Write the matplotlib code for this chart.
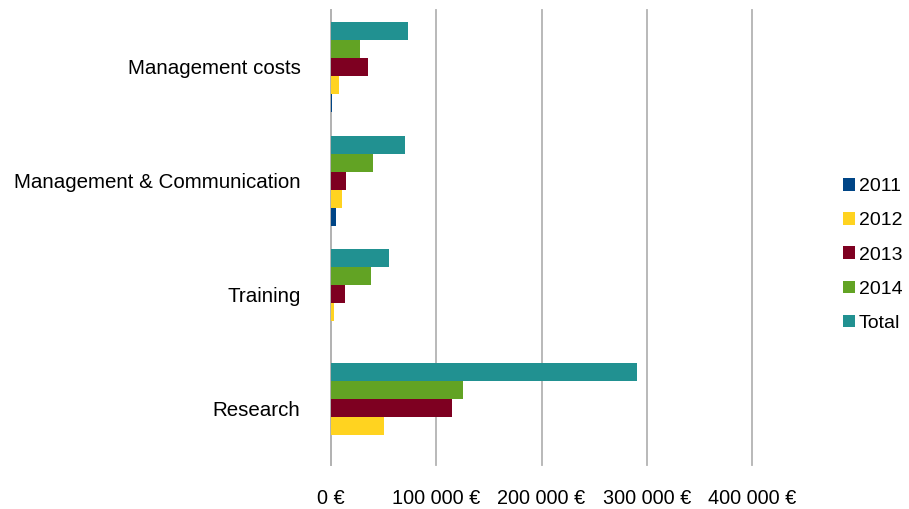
import matplotlib.pyplot as plt
import numpy as np
from matplotlib.patches import Patch
from matplotlib.ticker import FuncFormatter

plt.rcParams['font.family'] = ['Liberation Sans', 'DejaVu Sans']

categories = ["Management costs", "Management & Communication", "Training", "Research"]
series = ["2011", "2012", "2013", "2014", "Total"]
values = {
    "2011": [1000, 5000, 0, 0],
    "2012": [8000, 10000, 3000, 50000],
    "2013": [35000, 14000, 13000, 115000],
    "2014": [28000, 40000, 38000, 125000],
    "Total": [73000, 70500, 55000, 291000],
}
colors = {
    "2011": "#004586",
    "2012": "#ffd320",
    "2013": "#7e0021",
    "2014": "#62a324",
    "Total": "#219191",
}
xticks = [0, 100000, 200000, 300000, 400000]


def euro(v, pos):
    return "{:,.0f} €".format(v).replace(",", " ")


fig = plt.figure(figsize=(9.09, 5.09), dpi=100)
ax = fig.add_axes([331 / 909, 1 - 465 / 509, (752 - 331) / 909, 455 / 509])

# categories top to bottom, series bottom to top inside each group
y_base = np.arange(len(categories))[::-1]
bar_h = 0.158
for i, s in enumerate(series):
    offs = (i - 2) * bar_h
    ax.barh(y_base + offs, values[s], height=bar_h, color=colors[s], zorder=3)

ax.set_ylim(-0.5, len(categories) - 0.5)
ax.set_xlim(0, 400000)
ax.set_yticks(y_base)
ax.set_yticklabels(categories, fontsize=14.8, color="#000000")
ax.set_xticks(xticks)
ax.xaxis.set_major_formatter(FuncFormatter(euro))
ax.tick_params(axis="x", labelsize=14.3, length=0, pad=17)
ax.tick_params(axis="y", length=0, pad=22)

ax.grid(axis="x", color="#b3b3b3", linewidth=1.3, zorder=0)
for gl in ax.xaxis.get_gridlines():
    gl.set_clip_on(False)
for sp in ["top", "right", "bottom"]:
    ax.spines[sp].set_visible(False)
ax.spines["left"].set_color("#b3b3b3")
ax.spines["left"].set_linewidth(1.3)

handles = [Patch(facecolor=colors[s], label=s) for s in series]
fig.legend(handles=handles, loc="center left", bbox_to_anchor=(843 / 909, 1 - 255 / 509),
           frameon=False, fontsize=14, handlelength=0.6, handleheight=0.6,
           handletextpad=0.2, labelspacing=0.88, borderpad=0, borderaxespad=0)

fig.savefig("out.png", dpi=100)
